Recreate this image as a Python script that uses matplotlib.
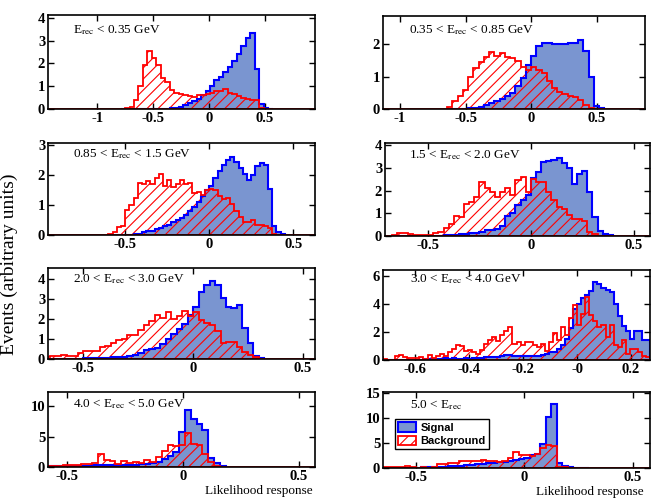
import numpy as np
import matplotlib
matplotlib.use('Agg')
import matplotlib.pyplot as plt
from matplotlib.patches import Patch


# ---- data: per panel, first bin edge, bin width, signal and background heights ----
labels = [r'E$_{\mathrm{rec}}$ < 0.35 GeV',
          r'0.35 < E$_{\mathrm{rec}}$ < 0.85 GeV',
          r'0.85 < E$_{\mathrm{rec}}$ < 1.5 GeV',
          r'1.5 < E$_{\mathrm{rec}}$ < 2.0 GeV',
          r'2.0 < E$_{\mathrm{rec}}$ < 3.0 GeV',
          r'3.0 < E$_{\mathrm{rec}}$ < 4.0 GeV',
          r'4.0 < E$_{\mathrm{rec}}$ < 5.0 GeV',
          r'5.0 < E$_{\mathrm{rec}}$']

binLo = [-0.79, -0.64, -0.60, -0.675, -0.675, -0.735, -0.59, -0.65]
binWidth = [0.04, 0.04, 0.025, 0.025, 0.025, 0.015, 0.025, 0.025]

sig1 = [0, 0, 0, 0, 0, 0, 0, 0, 0.01, 0.01,
        0.02, 0.04, 0.06, 0.1, 0.17, 0.25, 0.35, 0.45, 0.6, 0.8,
        1.0, 1.25, 1.42, 1.62, 1.85, 2.1, 2.4, 2.75, 3.1, 3.35,
        1.75, 0.2, 0.05, 0.01]
bkg1 = [0.0, 0.03, 0.08, 0.4, 1.0, 1.95, 2.53, 2.25, 1.95, 1.36,
        1.2, 0.85, 0.72, 0.65, 0.62, 0.55, 0.52, 0.6, 0.63, 0.66,
        0.72, 0.78, 0.8, 0.86, 0.68, 0.64, 0.58, 0.5, 0.45, 0.41,
        0.4, 0.04, 0.0, 0.0]

sig2 = [0, 0, 0, 0.01, 0.02, 0.04, 0.07, 0.12, 0.18, 0.24,
        0.3, 0.4, 0.5, 0.7, 0.95, 1.35, 1.65, 1.93, 2.05, 2.05,
        2.02, 2.0, 2.0, 2.03, 2.05, 2.12, 1.78, 1.0, 0.1, 0.02]
bkg2 = [0.05, 0.25, 0.4, 0.6, 1.0, 1.26, 1.44, 1.6, 1.75, 1.64,
        1.72, 1.6, 1.57, 1.47, 1.31, 1.21, 1.31, 1.2, 1.1, 0.85,
        0.65, 0.54, 0.46, 0.4, 0.36, 0.29, 0.13, 0.02, 0.0, 0.0]

sig3 = [0, 0, 0, 0, 0.01, 0.01, 0.02, 0.05, 0.1, 0.12,
        0.15, 0.2, 0.25, 0.3, 0.35, 0.42, 0.5, 0.58, 0.68, 0.8,
        0.95, 1.1, 1.3, 1.5, 1.65, 1.9, 2.15, 2.35, 2.5, 2.6,
        2.45, 2.25, 2.05, 1.85, 2.0, 2.3, 2.4, 2.35, 1.55, 0.3,
        0.1, 0.03]
bkg3 = [0.03, 0.1, 0.28, 0.3, 0.85, 1.0, 1.25, 1.75, 1.7, 1.8,
        1.72, 1.9, 2.05, 1.65, 1.85, 1.6, 1.7, 1.85, 1.7, 1.75,
        1.4, 1.45, 1.35, 1.5, 1.55, 1.5, 1.3, 1.2, 1.25, 1.05,
        0.8, 0.6, 0.42, 0.45, 0.5, 0.35, 0.32, 0.3, 0.25, 0.05,
        0.0, 0.0]

sig4 = [0, 0, 0, 0, 0, 0, 0, 0, 0.01, 0.02,
        0.03, 0.05, 0.06, 0.08, 0.1, 0.12, 0.14, 0.17, 0.25, 0.28,
        0.32, 0.45, 0.9, 1.0, 1.35, 1.6, 1.8, 2.55, 2.8, 3.25,
        3.3, 3.35, 3.45, 3.2, 3.0, 2.3, 2.75, 2.85, 1.95, 0.85,
        0.2, 0.1, 0.05]
bkg4 = [0.03, 0.12, 0.12, 0.1, 0.04, 0.03, 0.04, 0.06, 0.12, 0.18,
        0.35, 0.55, 0.88, 0.82, 1.4, 1.5, 1.73, 2.4, 2.1, 1.95,
        1.73, 1.95, 2.1, 1.8, 2.45, 2.6, 1.95, 2.5, 2.4, 2.4,
        1.95, 1.58, 1.26, 1.17, 0.92, 0.73, 0.75, 0.67, 0.19, 0.08,
        0.0, 0.0, 0.0]

sig5 = [0, 0, 0, 0, 0, 0, 0.02, 0.03, 0.03, 0.04,
        0.05, 0.06, 0.08, 0.1, 0.12, 0.15, 0.2, 0.3, 0.45, 0.5,
        0.55, 0.75, 1.0, 1.25, 1.5, 1.75, 2.2, 2.6, 3.35, 3.7,
        3.9, 3.7, 3.05, 2.6, 2.55, 2.7, 1.55, 0.8, 0.13, 0.03]
bkg5 = [0.1, 0.13, 0.13, 0.2, 0.15, 0.13, 0.3, 0.38, 0.42, 0.42,
        0.6, 0.65, 0.8, 0.95, 1.0, 1.2, 1.2, 1.45, 1.7, 1.9,
        2.2, 2.05, 2.35, 2.0, 2.15, 2.4, 2.15, 2.35, 1.95, 1.8,
        1.7, 1.4, 0.8, 0.85, 0.85, 0.62, 0.35, 0.22, 0.08, 0.02]

sig6 = [0.0, 0.0, 0.0, 0.0, 0.02, 0.02, 0.02, 0.02, 0.03, 0.03,
        0.03, 0.05, 0.08, 0.1, 0.08, 0.1, 0.12, 0.1, 0.12, 0.1,
        0.1, 0.12, 0.1, 0.15, 0.12, 0.15, 0.2, 0.18, 0.2, 0.22,
        0.25, 0.36, 0.36, 0.3, 0.25, 0.25, 0.3, 0.3, 0.25, 0.3,
        0.35, 0.4, 0.55, 0.6, 0.8, 1.1, 1.5, 2.3, 3.6, 4.0,
        4.4, 4.6, 4.9, 5.57, 5.4, 5.1, 5.0, 4.85, 4.0, 3.1,
        2.4, 2.1, 1.5, 2.1, 2.05, 1.4, 1.39, 0.31]
bkg6 = [0.19, 0.1, 0.02, 0.02, 0.25, 0.36, 0.2, 0.12, 0.12, 0.15,
        0.19, 0.05, 0.36, 0.12, 0.3, 0.43, 0.3, 0.55, 0.8, 1.08,
        1.0, 0.67, 0.74, 0.6, 0.43, 0.74, 1.15, 1.4, 1.63, 1.32,
        1.75, 2.1, 2.34, 1.15, 1.3, 1.08, 1.27, 1.27, 1.08, 0.9,
        1.15, 0.67, 1.27, 1.94, 1.39, 2.34, 1.8, 3.0, 3.9, 2.46,
        3.3, 4.5, 3.18, 2.8, 2.34, 2.46, 1.63, 2.46, 1.08, 0.9,
        1.39, 0.43, 0.79, 0.79, 0.55, 0.31, 0.19, 0.1]

sig7 = [0.1, 0.1, 0.12, 0.15, 0.15, 0.2, 0.2, 0.2, 0.25, 0.25,
        0.25, 0.3, 0.3, 0.3, 0.35, 0.4, 0.45, 0.5, 0.6, 0.9,
        1.3, 1.8, 2.5, 5.8, 9.4, 7.8, 7.0, 6.0, 1.4, 0.6,
        0.1]
bkg7 = [0.2, 0.2, 0.2, 0.3, 0.38, 0.25, 0.5, 0.55, 0.6, 2.2,
        1.1, 1.0, 0.55, 1.03, 0.6, 0.85, 0.65, 1.2, 0.9, 1.6,
        2.7, 3.6, 3.5, 3.6, 5.65, 3.8, 3.6, 2.2, 0.8, 0.2,
        0.05]

sig8 = [0.02, 0.03, 0.03, 0.05, 0.05, 0.08, 0.1, 0.12, 0.15, 0.2,
        0.25, 0.3, 0.35, 0.4, 0.5, 0.6, 0.7, 0.8, 0.9, 1.0,
        1.05, 1.15, 1.3, 1.5, 1.7, 1.9, 2.0, 2.6, 2.9, 4.9,
        10.3, 12.9, 1.0, 0.5, 0.25, 0.1, 0.05, 0.03]
bkg8 = [0.15, 0.2, 0.2, 0.25, 0.33, 0.15, 0.1, 0.12, 0.1, 0.2,
        0.87, 0.87, 1.0, 1.0, 1.33, 1.33, 1.33, 1.33, 1.53, 1.5,
        1.33, 1.3, 1.35, 2.0, 3.13, 2.67, 2.6, 2.4, 2.8, 4.0,
        4.6, 4.35, 0.25, 0.2, 0.1, 0.05, 0.03, 0.02]

signals = [sig1, sig2, sig3, sig4, sig5, sig6, sig7, sig8]
backgrounds = [bkg1, bkg2, bkg3, bkg4, bkg5, bkg6, bkg7, bkg8]

xLimits = [(-1.44, 0.95), (-1.13, 0.87), (-0.96, 0.63), (-0.71, 0.58),
           (-0.66, 0.555), (-0.72, 0.27), (-0.58, 0.57), (-0.65, 0.58)]
yLimits = [4.12, 2.87, 3.08, 4.1, 4.56, 6.41, 12.3, 15.3]
xTicks = [[-1, -0.5, 0, 0.5], [-1, -0.5, 0, 0.5], [-0.5, 0, 0.5], [-0.5, 0, 0.5],
          [-0.5, 0, 0.5], [-0.6, -0.4, -0.2, 0, 0.2], [-0.5, 0, 0.5], [-0.5, 0, 0.5]]
xTickLabels = [['-1', '-0.5', '0', '0.5'], ['-1', '-0.5', '0', '0.5'],
               ['-0.5', '0', '0.5'], ['-0.5', '0', '0.5'], ['-0.5', '0', '0.5'],
               ['-0.6', '-0.4', '-0.2', '-0', '0.2'], ['-0.5', '0', '0.5'], ['-0.5', '0', '0.5']]
yTicks = [[0, 1, 2, 3, 4], [0, 1, 2], [0, 1, 2, 3], [0, 1, 2, 3, 4],
          [0, 1, 2, 3, 4], [0, 2, 4, 6], [0, 5, 10], [0, 5, 10, 15]]


def main():

    plt.rcParams['font.family'] = ['Liberation Serif', 'DejaVu Serif']
    plt.rcParams['mathtext.fontset'] = 'stix'
    plt.rcParams['axes.unicode_minus'] = False
    plt.rcParams['hatch.linewidth'] = 0.8

    sigFill = '#7a95d0'
    W, H = 652.0, 498.0

    # axes boxes in pixels: left, top, right, bottom
    boxes = [(48, 15, 315, 109), (383, 16, 645, 109),
             (48, 143, 315, 235), (385, 143, 650, 236),
             (48, 268, 315, 359), (383, 270, 650, 360),
             (48, 392, 315, 467), (383, 392, 650, 468)]
    textPos = [(0.094, 0.84), (0.10, 0.85), (0.092, 0.88), (0.09, 0.87),
               (0.092, 0.88), (0.10, 0.90), (0.092, 0.84), (0.10, 0.83)]

    fig = plt.figure(figsize=(W / 100, H / 100), dpi=100)

    for i in range(8):
        l, t, r, b = boxes[i]
        ax = fig.add_axes([l / W, 1 - b / H, (r - l) / W, (b - t) / H])

        sig = np.array(signals[i])
        bkg = np.array(backgrounds[i])
        edges = binLo[i] + binWidth[i] * np.arange(len(sig) + 1)

        ax.stairs(sig, edges, fill=True, color=sigFill, lw=0, zorder=1)
        ax.stairs(bkg, edges, fill=True, facecolor='none', edgecolor='red',
                  hatch='///', lw=0, zorder=2)
        ax.stairs(sig, edges, color='blue', lw=1.5, zorder=3)
        ax.stairs(bkg, edges, color='red', lw=1.3, zorder=4)
        ax.axhline(0, color='red', lw=1.3, zorder=4)

        ax.set_xlim(xLimits[i])
        ax.set_ylim(0, yLimits[i])
        ax.set_xticks(xTicks[i])
        ax.set_xticklabels(xTickLabels[i])
        ax.set_yticks(yTicks[i])
        ax.tick_params(direction='in', top=True, right=True, length=4, width=1,
                       labelsize=10.5, pad=2)
        for lab in ax.get_xticklabels() + ax.get_yticklabels():
            lab.set_fontweight('bold')
        for sp in ax.spines.values():
            sp.set_linewidth(1.2)
            sp.set_zorder(5)

        ax.text(textPos[i][0], textPos[i][1], labels[i], transform=ax.transAxes,
                ha='left', va='center', fontsize=9.5, zorder=6)

        if i == 6:
            ax.text(0.99, -0.235, 'Likelihood response', transform=ax.transAxes,
                    ha='right', va='top', fontsize=9.5)
        if i == 7:
            ax.text(0.975, -0.235, 'Likelihood response', transform=ax.transAxes,
                    ha='right', va='top', fontsize=9.5)
            handles = [Patch(facecolor=sigFill, edgecolor='blue', lw=1.5, label='Signal'),
                       Patch(facecolor='white', edgecolor='red', hatch='///', lw=1.3,
                             label='Background')]
            leg = ax.legend(handles=handles, loc='upper left', bbox_to_anchor=(0.045, 0.645),
                            borderaxespad=0, fancybox=False, framealpha=1,
                            edgecolor='black', handlelength=1.6, handleheight=0.9,
                            handletextpad=0.4, borderpad=0.3, labelspacing=0.25,
                            prop={'family': 'Liberation Sans', 'weight': 'bold', 'size': 8})
            leg.get_frame().set_linewidth(1.0)
            leg.set_zorder(7)

    fig.text(0.014, 0.47, 'Events (arbitrary units)', rotation=90,
             ha='center', va='center', fontsize=14)

    plt.savefig('out.png', dpi=100)
    plt.close()


################################################################################
if __name__ == '__main__':

    main()
